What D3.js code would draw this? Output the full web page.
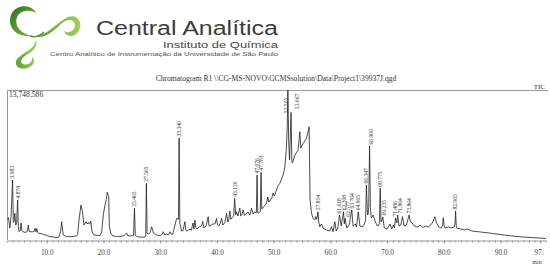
<!DOCTYPE html>
<html><head><meta charset="utf-8">
<script src="https://cdn.jsdelivr.net/npm/d3@7"></script>
<style>body{margin:0;background:#fff}svg{display:block}</style>
</head><body>
<svg id="c" width="550" height="269"></svg>
<script>
// ---- data ----
const chartTitle = "Chromatogram R1 \\\\CG-MS-NOVO\\GCMSsolution\\Data\\Project1\\39937J.qgd";
const maxIntensityLabel = "13,748,586";
const maxIntensity = 13.748586; // millions of counts
const xTickValues = [10, 20, 30, 40, 50, 60, 70, 80, 90, 97];
const retentionTimes = [3.05,3.25,3.50,3.72,3.983,4.12,4.25,4.37,4.55,4.70,4.874,5.00,5.13,5.35,5.48,5.62,5.78,6.2,6.55,6.76,6.90,7.06,7.5,7.8,7.94,8.1,8.24,8.40,8.52,9.0,9.40,10.0,10.58,11.2,11.76,12.17,12.45,12.64,12.80,12.93,13.53,14.4,15.0,15.29,15.45,15.69,16.04,16.31,16.57,16.92,17.15,17.36,17.55,17.75,17.98,18.33,19.0,19.39,19.69,19.97,20.27,20.50,20.67,20.82,20.92,21.03,21.27,21.68,22.3,22.91,23.6,24.09,24.3,24.67,25.3,25.465,25.62,26.0,26.43,27.31,27.45,27.565,27.70,28.0,28.19,28.49,28.81,29.37,29.96,30.3,30.54,30.8,31.13,31.5,31.72,32.0,32.24,32.6,32.9,33.22,33.340,33.46,33.55,33.75,34.0,34.36,34.5,34.71,35.24,35.5,35.77,35.95,36.12,36.3,36.47,36.9,37.3,37.5,37.7,38.1,38.46,38.6,38.76,39.2,39.64,39.94,40.1,40.34,40.6,40.82,41.05,41.4,41.7,41.93,42.1,42.28,42.45,42.63,42.95,43.120,43.30,43.46,43.69,44.04,44.2,44.39,44.62,44.85,45.1,45.45,45.8,46.1,46.38,46.68,46.95,47.076,47.20,47.27,47.65,47.781,47.90,48.04,48.36,48.74,48.97,49.15,49.68,49.91,50.12,50.5,50.73,51.09,51.67,51.97,52.23,52.40,52.505,52.65,52.80,53.067,53.2,53.32,53.73,54.08,54.31,54.61,54.78,55.19,55.49,55.79,56.02,56.25,56.42,56.67,56.95,57.25,57.42,57.60,57.814,57.95,58.13,58.43,58.71,59.31,59.89,60.19,60.47,60.77,61.03,61.3,61.618,61.9,62.308,62.45,62.577,62.9,63.3,63.764,64.0,64.4,64.6,64.905,65.2,65.6,66.0,66.2,66.347,66.50,66.6,66.75,66.906,67.05,67.2,67.55,67.9,68.3,68.55,68.65,68.775,68.90,69.0,69.235,69.5,70.0,70.5,70.8,71.1,71.3,71.486,71.7,71.864,72.1,72.4,72.7,73.0,73.4,73.864,74.1,74.4,74.8,75.3,75.8,76.3,76.8,77.3,77.8,78.1,78.4,78.7,79.1,79.5,79.75,79.9,80.05,80.2,80.8,81.3,81.8,81.95,82.065,82.18,82.3,83.0,83.7,84.0,85.0,86.0,88.0,90.0,92.0,94.0,96.0,98.0];
const intensities = [1.9,2.05,1.10,2.20,5.50,1.60,1.75,2.47,1.37,1.60,3.67,1.20,0.76,0.90,1.56,0.85,0.76,0.70,0.75,1.37,0.80,0.76,0.75,0.80,1.07,0.75,1.05,0.70,0.64,0.58,0.52,0.42,0.30,0.28,0.21,0.27,0.80,1.68,0.90,0.46,0.30,0.32,0.35,0.37,0.50,1.83,3.21,2.57,1.37,1.68,1.47,1.60,1.45,1.74,0.76,0.46,0.42,0.41,0.76,2.29,3.21,3.70,4.37,4.10,4.03,1.37,0.64,0.37,0.33,0.32,0.40,0.64,0.40,0.37,0.40,2.91,0.42,0.30,0.27,0.27,0.35,5.20,0.60,0.55,0.64,1.22,0.64,0.46,0.41,0.50,0.76,0.45,0.55,0.50,0.76,0.50,0.55,1.37,1.99,1.90,9.35,1.50,1.37,0.82,0.85,1.68,0.90,0.82,1.01,0.90,1.56,1.00,1.83,1.10,1.01,1.20,1.28,1.70,1.10,1.30,2.14,1.30,1.28,1.45,1.47,1.97,1.40,1.28,1.55,1.99,1.37,1.60,2.45,1.65,1.90,2.66,1.90,2.02,2.20,3.82,2.30,2.59,2.20,2.93,2.20,2.29,2.75,2.25,2.38,2.57,2.29,2.91,2.38,2.57,2.50,5.96,2.50,2.45,2.60,6.21,2.85,2.91,3.12,3.36,3.94,3.48,3.85,4.31,4.03,4.58,4.95,5.20,5.96,6.69,8.25,10.5,13.75,9.0,7.33,11.7,7.2,7.06,7.79,8.07,8.25,9.93,8.43,8.86,9.07,9.32,9.81,10.38,3.67,2.45,1.99,1.83,2.14,1.90,2.59,1.60,1.22,1.47,1.07,0.92,0.82,1.22,0.76,1.68,0.82,1.10,2.29,1.28,2.59,1.47,1.99,1.10,1.37,2.75,1.28,1.47,1.19,2.59,1.28,1.19,1.47,1.80,5.04,2.80,2.29,3.0,8.62,3.0,2.02,2.29,1.68,1.28,1.37,1.60,4.74,1.90,1.65,2.11,1.10,1.01,1.47,1.01,1.37,1.10,2.02,1.56,2.29,1.28,1.37,2.14,1.28,1.37,2.29,1.68,1.56,1.28,1.19,1.37,1.15,1.28,1.19,1.47,1.68,2.14,1.56,1.19,1.10,1.3,2.04,1.3,1.10,1.19,1.10,1.19,1.4,2.66,1.3,1.07,1.01,0.92,1.01,0.82,0.76,0.64,0.50,0.37,0.27,0.21,0.14];
const peakLabels = ["3.983","4.874","25.465","27.565","33.340","43.120","47.076","47.781","52.505","53.067","57.814","61.618","62.308","62.577","63.764","64.905","66.347","66.906","68.775","69.235","71.486","71.864","73.864","82.065"];

// ---- drawing ----
const svg = d3.select("#c");
svg.append("rect").attr("width",550).attr("height",269).attr("fill","#fff");
const defs = svg.append("defs");

// logo
const logo = svg.append("g");
const g1 = defs.append("linearGradient").attr("id","lg1").attr("x1","0").attr("y1","0").attr("x2","1").attr("y2","1");
g1.append("stop").attr("offset","0").attr("stop-color","#2f6e1d");
g1.append("stop").attr("offset","1").attr("stop-color","#7cc243");
const g2 = defs.append("linearGradient").attr("id","lg2").attr("x1","0").attr("y1","0").attr("x2","1").attr("y2","0");
g2.append("stop").attr("offset","0").attr("stop-color","#5aa332");
g2.append("stop").attr("offset","1").attr("stop-color","#9ed05a");
logo.append("path").attr("d","M32,36 C14,38 6,24 12,13 C17,4 32,4 36,13 C30,9 20,10 17,17 C14,26 20,33 32,36 Z").attr("fill","url(#lg1)");
logo.append("path").attr("d","M36,37 C48,34 58,22 68,17 C78,13 84,24 78,32 C74,38 66,37 64,31 C68,34 75,31 75,25 C74,18 66,19 60,25 C52,32 46,38 36,37 Z").attr("fill","url(#lg2)");
logo.append("path").attr("d","M36,40 C34,50 24,52 18,58 C12,65 20,71 28,68 C34,66 36,60 32,57 C33,62 28,66 23,64 C19,62 22,57 28,54 C34,50 38,46 36,40 Z").attr("fill","url(#lg2)");
logo.append("path").attr("d","M30,36 C36,38 40,36 44,32").attr("fill","none").attr("stroke","#4e8f2a").attr("stroke-width",1.5);
const sans = "Liberation Sans, Arial, sans-serif";
logo.append("text").attr("x",96).attr("y",35).attr("font-family",sans).attr("font-size",20).attr("fill","#3d3d3d")
  .attr("textLength",182).attr("lengthAdjust","spacingAndGlyphs").text("Central Analítica");
logo.append("text").attr("x",163).attr("y",47.5).attr("font-family",sans).attr("font-size",9).attr("fill","#454545")
  .attr("textLength",115).attr("lengthAdjust","spacingAndGlyphs").text("Instituto de Química");
logo.append("text").attr("x",50).attr("y",55.7).attr("font-family",sans).attr("font-size",6.1).attr("fill","#4a5a3a")
  .attr("textLength",228).attr("lengthAdjust","spacingAndGlyphs").text("Centro Analítico de Instrumentação da Universidade de São Paulo");

const serif = "Liberation Serif, Times New Roman, serif";
const x = d3.scaleLinear().domain([3.0, 98.0]).range([7, 546]);
const y = d3.scaleLinear().domain([0, maxIntensity]).range([240, 90]);

svg.append("text").attr("x",276).attr("y",80.5).attr("text-anchor","middle").attr("font-family",serif).attr("font-size",7.6).attr("fill","#333").text(chartTitle);
svg.append("text").attr("x",545).attr("y",88.5).attr("text-anchor","end").attr("font-family",serif).attr("font-size",7).attr("fill","#333").text("TIC");
svg.append("line").attr("x1",7).attr("x2",548).attr("y1",90.5).attr("y2",90.5).attr("stroke","#999").attr("stroke-width",1);
svg.append("line").attr("x1",7.5).attr("x2",7.5).attr("y1",90).attr("y2",240).attr("stroke","#999").attr("stroke-width",1);
svg.append("text").attr("x",9).attr("y",97).attr("font-family",serif).attr("font-size",7.6).attr("fill","#333").text(maxIntensityLabel);

// x axis
const minorAxis = d3.axisBottom(x).tickValues(d3.range(4, 98, 1)).tickSize(2).tickFormat("");
const ax1 = svg.append("g").attr("transform","translate(0,240.5)").call(minorAxis);
ax1.select(".domain").attr("stroke","#999");
ax1.selectAll(".tick line").attr("stroke","#999");
defs.append("clipPath").attr("id","axclip").append("rect").attr("x",0).attr("y",0).attr("width",543.5).attr("height",269);
const majorAxis = d3.axisBottom(x).tickValues(xTickValues).tickSize(3).tickFormat(d3.format(".1f"));
const ax2 = svg.append("g").attr("transform","translate(0,240.5)").attr("clip-path","url(#axclip)").call(majorAxis);
ax2.select(".domain").remove();
ax2.selectAll(".tick line").attr("stroke","#999");
ax2.selectAll(".tick text").attr("font-family",serif).attr("font-size",7.2).attr("fill","#444").attr("y",9).attr("dy","0.71em");
svg.append("text").attr("x",537).attr("y",263.5).attr("text-anchor","middle").attr("font-family",serif).attr("font-size",6).attr("fill","#444").text("min");

// trace
const pts = retentionTimes.map((t,i)=>[t, intensities[i]]);
const line = d3.line().x(d=>x(d[0])).y(d=>y(d[1]));
svg.append("path").datum(pts).attr("d",line).attr("fill","none").attr("stroke","#1e1e1e").attr("stroke-width",0.8).attr("stroke-linejoin","round");

// peak labels (rotated, above each peak; nudged right when crowded, kept inside the frame)
const labelFont = 5.6;
let lastX = -100, lastClamped = false, lastPy = 0;
peakLabels.forEach(lbl => {
  const t = +lbl;
  const i = retentionTimes.indexOf(t);
  const v = intensities[i];
  let px = x(t) + 1.9;
  if (px < lastX + 4.3) px = lastX + 4.3;
  const len = lbl.length * labelFont * 0.48;
  let py = y(v) - 1.5;
  let clamped = false;
  if (py - len < 92) { py = 92 + len + 5; px -= 2; clamped = true; }
  else if (lastClamped && px - lastX < 8) { px = lastX + 11; py = Math.min(py, lastPy - 4); }
  lastX = px; lastClamped = clamped; lastPy = py;
  svg.append("text").attr("transform",`translate(${px},${py}) rotate(-90)`)
    .attr("font-family",serif).attr("font-size",labelFont).attr("fill","#333").text(lbl);
});
</script>
</body></html>
